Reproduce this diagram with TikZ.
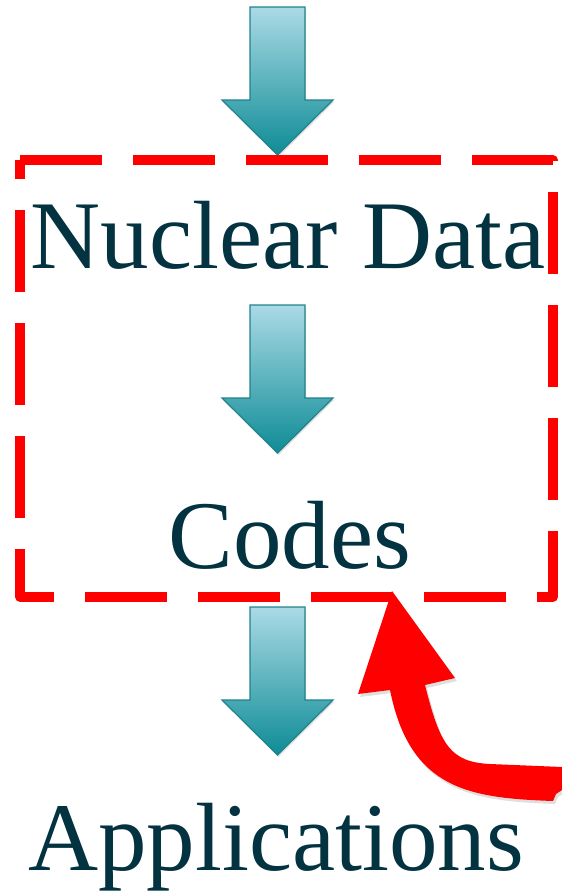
\documentclass[tikz,border=0pt]{standalone}
\usepackage{fontspec}
\setmainfont{Liberation Serif}
\usetikzlibrary{shadows}
\definecolor{txt}{RGB}{3,50,64}
\definecolor{arrtop}{RGB}{170,218,229}
\definecolor{arrbot}{RGB}{14,140,150}
\definecolor{arredge}{RGB}{32,130,140}
\definecolor{pred}{RGB}{255,0,0}
\tikzset{
  label/.style={text=txt,font=\fontsize{97}{110}\selectfont,inner sep=0pt,anchor=base},
  flowarrow/.style={draw=arredge,line width=1.2pt,top color=arrtop,bottom color=arrbot,line join=miter,
    drop shadow={shadow xshift=1pt,shadow yshift=-2pt,opacity=0.25}},
  scopebox/.style={draw=pred,line width=9.5pt,dash pattern=on 82pt off 31pt,line join=round,line cap=butt},
  bigarrow/.style={fill=pred,draw=none,drop shadow={shadow xshift=2pt,shadow yshift=-3pt,opacity=0.25}}
}
\newcommand\flowarr[2]{% x center, y top
  \path[flowarrow] (#1-27.5,#2) -- (#1+27.5,#2) -- (#1+27.5,#2+93) -- (#1+55.5,#2+93)
    -- (#1,#2+148) -- (#1-55.5,#2+93) -- (#1-27.5,#2+93) -- cycle;}
\begin{document}
\begin{tikzpicture}[x=1pt,y=-1pt]
\useasboundingbox (0,0) rectangle (562,894);
% flow arrows
\flowarr{277.5}{7}
\flowarr{277.5}{305}
\flowarr{277.5}{607}
% dashed scope box
\coordinate (tl) at (20,160);
\coordinate (tr) at (553,160);
\coordinate (br) at (553,597);
\coordinate (bl) at (20,597);
\draw[scopebox] (tl) -- (tr) -- (br) -- (bl) -- cycle;
% labels
\node[label] (nd) at (288,268) {Nuclear Data};
\node[label] (codes) at (290,568) {Codes};
\node[label] (apps) at (276,870) {Applications};
% red curved arrow
\coordinate (tip) at (392,591);
\path[bigarrow] (tip) -- (455,678) -- (425,685)
  .. controls (440,745) and (450,762) .. (490,764)
  -- (562,767) -- (562,790) -- (556,794) -- (553,801)
  .. controls (470,798) and (410,790) .. (390,690)
  -- (358,694) -- cycle;
\end{tikzpicture}
\end{document}
